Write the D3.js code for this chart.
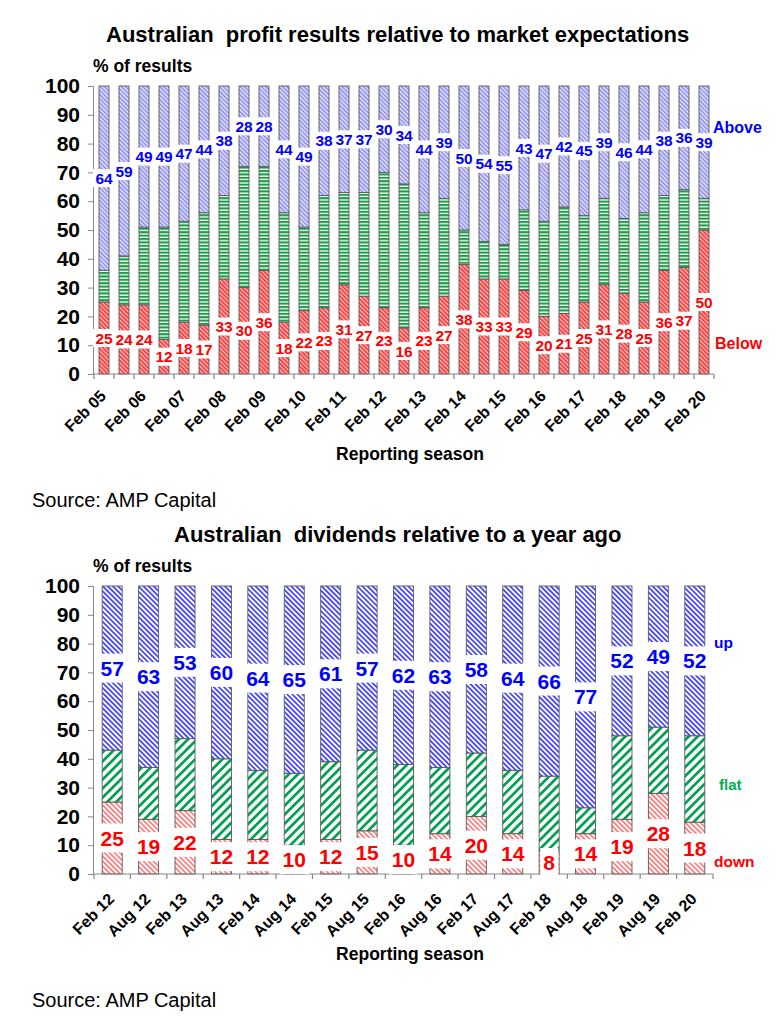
<!DOCTYPE html>
<html>
<head>
<meta charset="utf-8">
<script src="https://cdn.jsdelivr.net/npm/d3@7"></script>
<style>
  html, body { margin: 0; padding: 0; background: #fff; }
  svg { display: block; font-family: "Liberation Sans", Arial, sans-serif; }
  text { white-space: pre; }
</style>
</head>
<body>
<svg id="chart" width="781" height="1024"></svg>
<script>
// ---------------- DATA ----------------
const profitCategories = ["Feb 05","Aug 05","Feb 06","Aug 06","Feb 07","Aug 07","Feb 08","Aug 08",
  "Feb 09","Aug 09","Feb 10","Aug 10","Feb 11","Aug 11","Feb 12","Aug 12","Feb 13","Aug 13",
  "Feb 14","Aug 14","Feb 15","Aug 15","Feb 16","Aug 16","Feb 17","Aug 17","Feb 18","Aug 18",
  "Feb 19","Aug 19","Feb 20"];
const profitBelow = [25,24,24,12,18,17,33,30,36,18,22,23,31,27,23,16,23,27,38,33,33,29,20,21,25,31,28,25,36,37,50];
const profitAbove = [64,59,49,49,47,44,38,28,28,44,49,38,37,37,30,34,44,39,50,54,55,43,47,42,45,39,46,44,38,36,39];
const profitTickLabels = ["Feb 05","Feb 06","Feb 07","Feb 08","Feb 09","Feb 10","Feb 11","Feb 12",
  "Feb 13","Feb 14","Feb 15","Feb 16","Feb 17","Feb 18","Feb 19","Feb 20"];

const divCategories = ["Feb 12","Aug 12","Feb 13","Aug 13","Feb 14","Aug 14","Feb 15","Aug 15",
  "Feb 16","Aug 16","Feb 17","Aug 17","Feb 18","Aug 18","Feb 19","Aug 19","Feb 20"];
const divDown = [25,19,22,12,12,10,12,15,10,14,20,14,8,14,19,28,18];
const divUp   = [57,63,53,60,64,65,61,57,62,63,58,64,66,77,52,49,52];
const divTickLabels = divCategories;

const yTicks = [0,10,20,30,40,50,60,70,80,90,100];

// ---------------- PATTERNS ----------------
const svg = d3.select("#chart");
const defs = svg.append("defs");
function stripes(id, period, width, color, bg, angle) {
  const p = defs.append("pattern").attr("id", id).attr("patternUnits", "userSpaceOnUse")
    .attr("width", period).attr("height", period)
    .attr("patternTransform", `rotate(${angle})`);
  p.append("rect").attr("width", period).attr("height", period).attr("fill", bg);
  p.append("rect").attr("width", width).attr("height", period).attr("fill", color);
}
function hstripes(id, period, width, color, bg) {
  const p = defs.append("pattern").attr("id", id).attr("patternUnits", "userSpaceOnUse")
    .attr("width", 4).attr("height", period);
  p.append("rect").attr("width", 4).attr("height", period).attr("fill", bg);
  p.append("rect").attr("width", 4).attr("height", width).attr("fill", color);
}
stripes("pAboveTop", 3, 1.3, "#8080f0", "#e2e2ff", -45);
hstripes("pFlatTop", 3.4, 2.1, "#1c9c48", "#ffffff");
stripes("pBelowTop", 3, 1.6, "#ff2a2a", "#ffc4c4", -45);
stripes("pUpBot", 3.6, 1.7, "#4040ff", "#ffffff", -45);
stripes("pFlatBot", 6.4, 2.7, "#00a050", "#ffffff", 45);
stripes("pDownBot", 3.6, 1.5, "#ff6a6a", "#ffffff", -45);

// ---------------- CHART FUNCTION ----------------
function drawChart(o) {
  const g = svg.append("g").attr("transform", `translate(0,${o.offsetY})`);
  const x0 = 94, x1 = o.xEnd, yTop = 86, yBot = 374;
  const x = d3.scaleBand().domain(o.categories).range([x0, x1])
    .paddingInner(o.pad).paddingOuter(o.pad / 2);
  const y = d3.scaleLinear().domain([0, 100]).range([yBot, yTop]);

  // titles
  g.append("text").attr("x", o.titleX).attr("y", 42)
    .attr("font-size", 22).attr("font-weight", "bold").attr("fill", "#000").text(o.title);
  g.append("text").attr("x", 93).attr("y", 72)
    .attr("font-size", 17.5).attr("font-weight", "bold").attr("fill", "#000").text("% of results");

  // y axis
  const ya = g.append("g").attr("transform", `translate(${x0 - 1},0)`)
    .call(d3.axisLeft(y).tickValues(yTicks).tickSize(5).tickPadding(8));
  ya.select(".domain").attr("stroke", "#888").attr("stroke-width", 1);
  ya.selectAll(".tick line").attr("stroke", "#888");
  ya.selectAll(".tick text").attr("font-size", 21).attr("font-weight", "bold")
    .attr("fill", "#000").attr("font-family", "Liberation Sans, Arial, sans-serif");

  // stacked data
  const rows = o.categories.map((c, i) => {
    const lo = o.low[i], hi = o.high[i];
    return { c, lo, hi, mid: 100 - lo - hi };
  });
  const bars = g.append("g");
  rows.forEach(r => {
    const bx = x(r.c), bw = x.bandwidth();
    const segs = [
      [0, r.lo, o.fills[0]],
      [r.lo, 100 - r.hi, o.fills[1]],
      [100 - r.hi, 100, o.fills[2]]
    ];
    segs.forEach(s => {
      if (s[1] - s[0] <= 0) return;
      bars.append("rect").attr("x", bx).attr("width", bw)
        .attr("y", y(s[1])).attr("height", y(s[0]) - y(s[1]))
        .attr("fill", `url(#${s[2]})`).attr("stroke", "#5a5a5a").attr("stroke-width", 0.9);
    });
  });

  // x axis line & ticks at category boundaries
  const xa = g.append("g");
  xa.append("line").attr("x1", x0).attr("x2", x1).attr("y1", yBot).attr("y2", yBot)
    .attr("stroke", "#888").attr("stroke-width", 1.2);
  const bounds = o.categories.map(c => x(c) - (x.step() - x.bandwidth()) / 2);
  bounds.push(x1);
  bounds.forEach(bx => xa.append("line").attr("x1", bx).attr("x2", bx)
    .attr("y1", yBot).attr("y2", yBot + 5).attr("stroke", "#888").attr("stroke-width", 1.2));

  // value labels with white boxes
  const labs = g.append("g");
  function label(cx, cy, txt, color) {
    const lg = labs.append("g");
    const t = lg.append("text").attr("x", cx).attr("y", cy).attr("dy", "0.36em")
      .attr("text-anchor", "middle").attr("font-size", o.valFont).attr("font-weight", "bold")
      .attr("fill", color).text(txt);
    const bb = t.node().getBBox();
    lg.insert("rect", "text").attr("x", bb.x - o.boxPad).attr("width", bb.width + 2 * o.boxPad)
      .attr("y", cy - o.boxH / 2).attr("height", o.boxH).attr("fill", "#fff");
  }
  rows.forEach(r => {
    const cx = x(r.c) + x.bandwidth() / 2;
    label(cx, y(100 - r.hi / 2), r.hi, "#0000ff");
  });
  rows.forEach(r => {
    const cx = x(r.c) + x.bandwidth() / 2;
    label(cx, y(r.lo / 2), r.lo, "#ff0000");
  });

  // x tick labels
  o.tickLabels.forEach(c => {
    const cx = x(c) + x.bandwidth() / 2 + 3;
    g.append("text").attr("transform", `translate(${cx},${yBot + o.tickDy}) rotate(-45)`)
      .attr("text-anchor", "end").attr("font-size", 16).attr("font-weight", "bold")
      .attr("fill", "#000").text(c);
  });
  g.append("text").attr("x", 410).attr("y", 460).attr("text-anchor", "middle")
    .attr("font-size", 17.5).attr("font-weight", "bold").attr("fill", "#000").text("Reporting season");
  g.append("text").attr("x", 32).attr("y", 507)
    .attr("font-size", 20).attr("fill", "#000").text("Source: AMP Capital");

  // legend labels
  o.legend.forEach(l => g.append("text").attr("x", l.x).attr("y", l.y)
    .attr("font-size", l.size).attr("font-weight", "bold").attr("fill", l.color).text(l.text));
}

drawChart({
  offsetY: 0, xEnd: 714, pad: 0.5,
  title: "Australian  profit results relative to market expectations", titleX: 106,
  categories: profitCategories, low: profitBelow, high: profitAbove, tickLabels: profitTickLabels,
  fills: ["pBelowTop", "pFlatTop", "pAboveTop"],
  valFont: 15.5, boxPad: 2.5, boxH: 18, tickDy: 23,
  legend: [
    { text: "Above", x: 713, y: 133, color: "#0000ff", size: 16 },
    { text: "Below", x: 715, y: 349, color: "#ff0000", size: 16 }
  ]
});

drawChart({
  offsetY: 500, xEnd: 713, pad: 0.45,
  title: "Australian  dividends relative to a year ago", titleX: 174,
  categories: divCategories, low: divDown, high: divUp, tickLabels: divTickLabels,
  fills: ["pDownBot", "pFlatBot", "pUpBot"],
  valFont: 21, boxPad: 3, boxH: 29, tickDy: 26,
  legend: [
    { text: "up", x: 714, y: 148, color: "#0000ff", size: 15.5 },
    { text: "flat", x: 719, y: 290, color: "#00b050", size: 15 },
    { text: "down", x: 714, y: 367, color: "#ff0000", size: 15.5 }
  ]
});
</script>
</body>
</html>
